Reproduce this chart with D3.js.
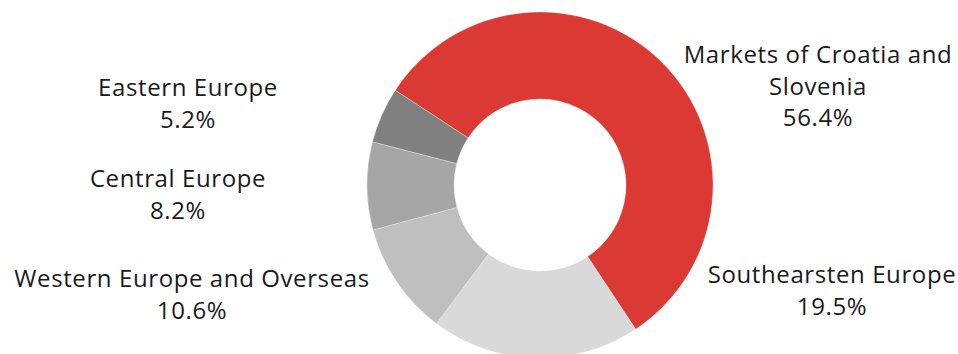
<!DOCTYPE html>
<html>
<head>
  <style>
    body { margin: 0; background: #fff; }
    text { font-family: "Open Sans", Roboto, sans-serif; fill: #1a1a1a; }
  </style>
  <script src="https://cdn.jsdelivr.net/npm/d3@7"></script>
</head>
<body>
<script>
  // Data
  const regions = ["Markets of Croatia and|Slovenia", "Southearsten Europe", "Western Europe and Overseas", "Central Europe", "Eastern Europe"];
  const shares = [56.4, 19.5, 10.6, 8.2, 5.2];
  const colors = ["#db3a34", "#d9d9d9", "#bfbfbf", "#a6a6a6", "#808080"];

  // Label anchor points (centre x, first baseline y)
  const labelPos = [[818, 63], [832, 283], [192, 287], [178, 187], [188, 96]];

  const width = 958, height = 354;
  const cx = 540, cy = 185, outerR = 173, innerR = 86;
  const lineH = 31.5;

  const svg = d3.select("body").append("svg")
      .attr("width", width)
      .attr("height", height);

  const data = regions.map((r, i) => ({ name: r, value: shares[i], color: colors[i] }));

  const start = -56.8 * Math.PI / 180;
  const pie = d3.pie()
      .value(d => d.value)
      .sort(null)
      .startAngle(start)
      .endAngle(start + 2 * Math.PI);

  const arc = d3.arc().innerRadius(innerR).outerRadius(outerR);

  svg.append("g")
      .attr("transform", "translate(" + cx + "," + cy + ")")
    .selectAll("path")
    .data(pie(data))
    .enter().append("path")
      .attr("d", arc)
      .attr("fill", d => d.data.color)
      .attr("stroke", "#fff")
      .attr("stroke-width", 0.3);

  // Labels
  const labels = svg.append("g").attr("id", "labels");
  data.forEach((d, i) => {
    const lines = d.name.split("|").concat([d.value.toFixed(1) + "%"]);
    const t = labels.append("text")
        .attr("x", labelPos[i][0])
        .attr("y", labelPos[i][1])
        .style("text-anchor", "middle")
        .style("font-size", "24px")
        .style("letter-spacing", "0.6px");
    lines.forEach((l, j) => {
      t.append("tspan")
          .attr("x", labelPos[i][0])
          .attr("dy", j === 0 ? 0 : lineH)
          .text(l);
    });
  });
</script>
</body>
</html>
